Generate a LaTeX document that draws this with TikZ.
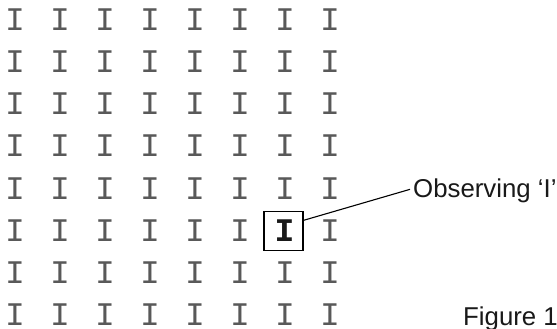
\documentclass[tikz,border=0pt]{standalone}
\usepackage{fontspec}
\setmainfont{Liberation Sans}
\newfontfamily\gridfont{Liberation Mono}
\begin{document}
\begin{tikzpicture}[x=1pt,y=-1pt,
  letter/.style={font=\gridfont\fontsize{33}{33}\selectfont, text=black!65, inner sep=0pt},
  focus/.style={font=\gridfont\bfseries\fontsize{33}{33}\selectfont, text=black!90, inner sep=0pt},
  framebox/.style={draw, line width=1.1pt, minimum width=39pt, minimum height=39pt},
  caption/.style={font=\fontsize{25.8}{25.8}\selectfont, text=black!90, inner sep=0pt, anchor=base west}]
  \useasboundingbox (0,0) rectangle (557,329);
  % 8 x 8 grid of letters, one cell left for the framed letter
  \foreach \r in {0,...,7} {
    \foreach \c in {0,...,7} {
      \ifnum\r=5 \ifnum\c=6 \else
        \node[letter] (g-\r-\c) at (15+45*\c, 19.5+42.2*\r) {I};
      \fi \else
        \node[letter] (g-\r-\c) at (15+45*\c, 19.5+42.2*\r) {I};
      \fi
    }
  }
  % framed letter under observation
  \node[focus] (obsletter) at (284.5, 231) {I};
  \node[framebox] (obs) at (283.5, 231) {};
  % callout label and its leader line
  \node[caption] (lbl) at (413, 197) {Observing ‘I’};
  \draw[line width=1.1pt] (obs.28) -- ([xshift=-3pt,yshift=1pt]lbl.west);
  % figure caption
  \node[caption] (fig) at (463, 325) {Figure 1};
\end{tikzpicture}
\end{document}
